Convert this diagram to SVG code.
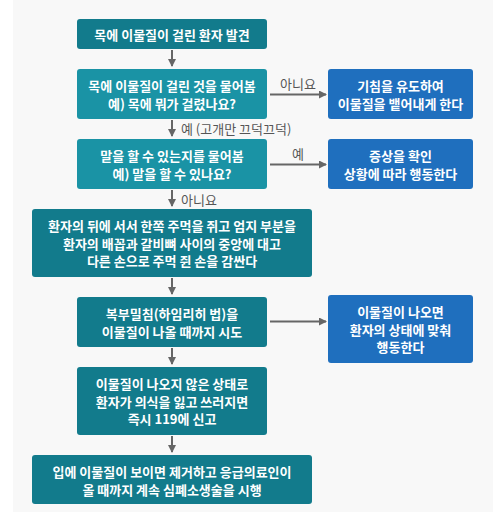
<svg xmlns="http://www.w3.org/2000/svg" width="493" height="514" viewBox="0 0 493 514">
<defs>
<style>
.dark{fill:#127b8c}
.light{fill:#1a93a5}
.blue{fill:#1f6fbe}
.t{font-family:"Noto Sans CJK KR","Noto Sans",sans-serif;font-size:13px;font-weight:bold;fill:#fff;text-anchor:middle;dominant-baseline:central}
.lbl{font-family:"Noto Sans CJK KR","Noto Sans",sans-serif;font-size:13px;fill:#555;dominant-baseline:central}
.ln{stroke:#666;stroke-width:2;fill:none;marker-end:url(#ah)}
</style>
<marker id="ah" viewBox="0 0 8 8" refX="7" refY="4" markerWidth="4" markerHeight="4" orient="auto" markerUnits="strokeWidth">
<path d="M0,0 L8,4 L0,8 z" fill="#666"/>
</marker>
</defs>
<rect x="13" y="0" width="480" height="512" fill="#f8f8f8"/>
<g id="connectors">
<line class="ln" x1="172" y1="50" x2="172" y2="66"/>
<line class="ln" x1="270" y1="94.5" x2="326" y2="94.5"/>
<text class="lbl" x="298" y="83" text-anchor="middle">아니요</text>
<line class="ln" x1="172" y1="120" x2="172" y2="136"/>
<text class="lbl" x="181" y="128">예 (고개만 끄덕끄덕)</text>
<line class="ln" x1="270" y1="164.5" x2="326" y2="164.5"/>
<text class="lbl" x="298" y="153" text-anchor="middle">예</text>
<line class="ln" x1="172" y1="190" x2="172" y2="206"/>
<text class="lbl" x="181" y="199">아니요</text>
<line class="ln" x1="172" y1="278" x2="172" y2="294"/>
<line class="ln" x1="270" y1="321.5" x2="326" y2="321.5"/>
<line class="ln" x1="172" y1="348" x2="172" y2="364"/>
<line class="ln" x1="172" y1="436" x2="172" y2="452"/>
</g>
<g id="n1"><rect class="dark" x="77" y="19" width="190" height="30" rx="3"/><text class="t" x="172" y="34">목에 이물질이 걸린 환자 발견</text></g>
<g id="n2"><rect class="light" x="77" y="69" width="190" height="50" rx="3"/><text class="t" x="172" y="85">목에 이물질이 걸린 것을 물어봄</text><text class="t" x="172" y="103">예) 목에 뭐가 걸렸나요?</text></g>
<g id="n3"><rect class="blue" x="328" y="69" width="145" height="50" rx="3"/><text class="t" x="400.5" y="85">기침을 유도하여</text><text class="t" x="400.5" y="103">이물질을 뱉어내게 한다</text></g>
<g id="n4"><rect class="light" x="77" y="139" width="190" height="50" rx="3"/><text class="t" x="172" y="155">말을 할 수 있는지를 물어봄</text><text class="t" x="172" y="173">예) 말을 할 수 있나요?</text></g>
<g id="n5"><rect class="blue" x="328" y="139" width="145" height="50" rx="3"/><text class="t" x="400.5" y="155">증상을 확인</text><text class="t" x="400.5" y="173">상황에 따라 행동한다</text></g>
<g id="n6"><rect class="dark" x="32" y="209" width="280" height="68" rx="3"/><text class="t" x="172" y="225.5">환자의 뒤에 서서 한쪽 주먹을 쥐고 엄지 부분을</text><text class="t" x="172" y="243">환자의 배꼽과 갈비뼈 사이의 중앙에 대고</text><text class="t" x="172" y="260.5">다른 손으로 주먹 쥔 손을 감싼다</text></g>
<g id="n7"><rect class="dark" x="77" y="297" width="190" height="50" rx="3"/><text class="t" x="172" y="313">복부밀침(하임리히 법)을</text><text class="t" x="172" y="331">이물질이 나올 때까지 시도</text></g>
<g id="n8"><rect class="blue" x="328" y="295" width="145" height="68" rx="3"/><text class="t" x="400.5" y="311.5">이물질이 나오면</text><text class="t" x="400.5" y="329">환자의 상태에 맞춰</text><text class="t" x="400.5" y="346.5">행동한다</text></g>
<g id="n9"><rect class="dark" x="77" y="367" width="190" height="68" rx="3"/><text class="t" x="172" y="383.5">이물질이 나오지 않은 상태로</text><text class="t" x="172" y="401">환자가 의식을 잃고 쓰러지면</text><text class="t" x="172" y="418.5">즉시 119에 신고</text></g>
<g id="n10"><rect class="dark" x="32" y="455" width="280" height="49" rx="3"/><text class="t" x="172" y="471">입에 이물질이 보이면 제거하고 응급의료인이</text><text class="t" x="172" y="489">올 때까지 계속 심폐소생술을 시행</text></g>
</svg>
